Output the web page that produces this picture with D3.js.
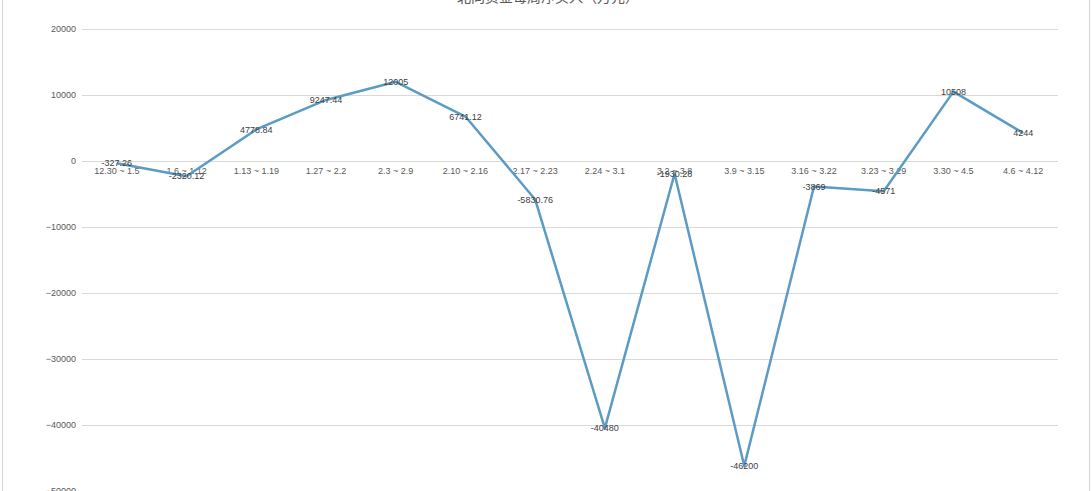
<!DOCTYPE html>
<html>
<head>
<meta charset="utf-8">
<script src="https://cdn.jsdelivr.net/npm/d3@7"></script>
<style>
  html, body { margin: 0; padding: 0; background: #fff; }
  svg { display: block; }
</style>
</head>
<body>
<svg id="chart" width="1091" height="491"></svg>
<script>
// Weekly periods and net flow values (万元)
const weeks = ["12.30 ~ 1.5", "1.6 ~ 1.12", "1.13 ~ 1.19", "1.27 ~ 2.2", "2.3 ~ 2.9", "2.10 ~ 2.16",
  "2.17 ~ 2.23", "2.24 ~ 3.1", "3.2 ~ 3.8", "3.9 ~ 3.15", "3.16 ~ 3.22", "3.23 ~ 3.29", "3.30 ~ 4.5", "4.6 ~ 4.12"];
const netFlow = [-327.26, -2320.12, 4778.84, 9247.44, 12005, 6741.12, -5830.76, -40480, -1930.28, -46200, -3869, -4571, 10508, 4244];
const yTicks = [20000, 10000, 0, -10000, -20000, -30000, -40000, -50000];
const title = "北向资金每周净买入（万元）";

const svg = d3.select("#chart");
const W = 1091, H = 491;
const plotLeft = 82, plotRight = 1058, plotTop = 29, plotBottom = 491;

// frame borders
svg.append("line").attr("x1", 2.5).attr("x2", 2.5).attr("y1", 0).attr("y2", H)
  .attr("stroke", "#d6d6d6").attr("stroke-width", 1);
svg.append("line").attr("x1", W - 1.5).attr("x2", W - 1.5).attr("y1", 0).attr("y2", H)
  .attr("stroke", "#d6d6d6").attr("stroke-width", 1);

const x = d3.scaleBand().domain(weeks).range([plotLeft, plotRight]);
const y = d3.scaleLinear().domain([-50000, 20000]).range([plotBottom, plotTop]);
const cx = d => x(d) + x.bandwidth() / 2;

// horizontal gridlines + y tick labels
const yAxis = d3.axisLeft(y).tickValues(yTicks).tickSize(-(plotRight - plotLeft)).tickPadding(6)
  .tickFormat(d3.format("d"));
const gy = svg.append("g").attr("transform", `translate(${plotLeft},0)`).call(yAxis);
gy.select(".domain").remove();
gy.selectAll(".tick line").attr("stroke", "#d9d9d9").attr("stroke-width", 1);
gy.selectAll(".tick text").attr("fill", "#595959").attr("font-size", 9)
  .attr("font-family", "Liberation Sans, Arial, sans-serif");

// category labels just below the zero line
const xAxis = d3.axisBottom(x).tickSize(0).tickPadding(7);
const gx = svg.append("g").attr("transform", `translate(0,${y(0)})`).call(xAxis);
gx.select(".domain").remove();
gx.selectAll(".tick text").attr("fill", "#595959").attr("font-size", 9)
  .attr("font-family", "Liberation Sans, Arial, sans-serif");

// title, partly above the page edge
svg.append("text").attr("x", 548).attr("y", 2).attr("text-anchor", "middle")
  .attr("font-size", 14).attr("fill", "#595959")
  .attr("font-family", "Noto Sans CJK SC, sans-serif").text(title);

// series line
const line = d3.line().x((d, i) => cx(weeks[i])).y(d => y(d));
svg.append("path").datum(netFlow).attr("d", line)
  .attr("fill", "none").attr("stroke", "#5b9bc4").attr("stroke-width", 2.5)
  .attr("stroke-linejoin", "round");

// value labels centred on each point
svg.append("g").selectAll("text").data(netFlow).join("text")
  .attr("x", (d, i) => cx(weeks[i]))
  .attr("y", d => y(d))
  .attr("dy", "0.35em")
  .attr("text-anchor", "middle")
  .attr("font-size", 9).attr("fill", "#404040")
  .attr("font-family", "Liberation Sans, Arial, sans-serif")
  .text(d => d);
</script>
</body>
</html>
